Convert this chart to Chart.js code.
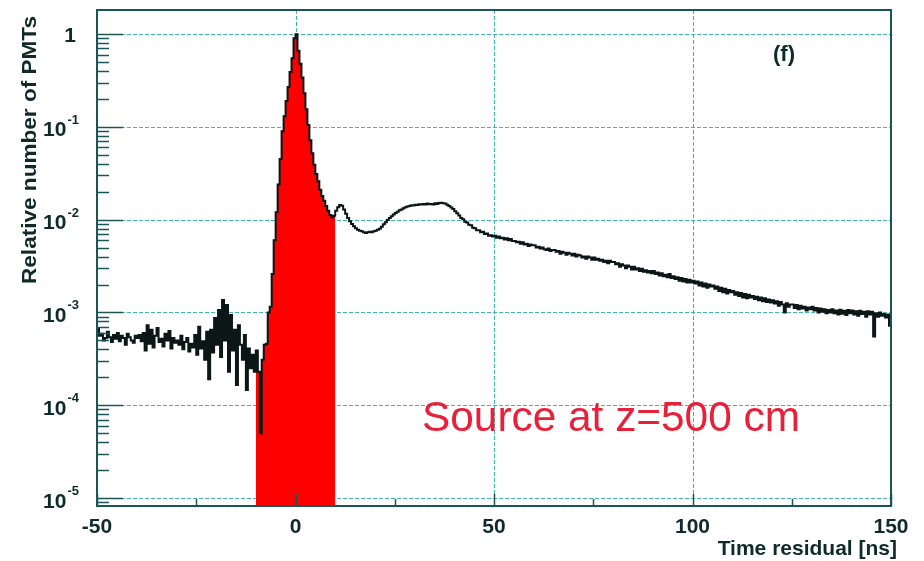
<!DOCTYPE html>
<html>
<head>
<meta charset="utf-8">
<script src="https://cdn.jsdelivr.net/npm/chart.js@4/dist/chart.umd.min.js"></script>
<style>
  html, body { margin: 0; padding: 0; background: #fff; }
  #wrap { width: 924px; height: 561px; }
</style>
</head>
<body>
<div id="wrap"><canvas id="myChart" width="924" height="561"></canvas></div>
<script>
// histogram binning (ns)
var binStart = -50;
var binWidth = 0.5;

// relative number of PMTs per 0.5 ns bin, -50 ns .. 150 ns (one row = 10 ns)
var relPMTs = [
  6.8e-4,5.6e-4,5.9e-4,5.0e-4,5.3e-4,6.2e-4,5.4e-4,4.8e-4,5.7e-4,5.2e-4,6.0e-4,4.9e-4,5.6e-4,5.3e-4,4.5e-4,5.9e-4,5.4e-4,5.0e-4,4.7e-4,5.6e-4,
  5.3e-4,5.7e-4,4.9e-4,6.0e-4,3.9e-4,7.3e-4,4.6e-4,6.5e-4,4.2e-4,5.6e-4,6.8e-4,4.8e-4,5.2e-4,4.3e-4,5.9e-4,5.0e-4,6.3e-4,4.1e-4,5.3e-4,4.7e-4,
  5.0e-4,4.5e-4,5.6e-4,4.0e-4,4.8e-4,5.3e-4,3.8e-4,4.6e-4,4.2e-4,5.7e-4,3.5e-4,7.0e-4,4.1e-4,4.9e-4,3.1e-4,6.2e-4,1.9e-4,6.5e-4,3.7e-4,8.7e-4,
  4.5e-4,1.06e-3,3.3e-4,1.36e-3,5.0e-4,1.2e-3,2.3e-4,9.4e-4,3.9e-4,6.5e-4,1.65e-4,7.3e-4,4.5e-4,3.1e-4,5.7e-4,1.46e-4,4.1e-4,2.5e-4,3.5e-4,2.3e-4,
  3.9e-4,2.3e-4,5.0e-5,3.1e-4,4.5e-4,4.6e-4,1.0e-3,1.15e-3,2.6e-3,6.0e-3,1.2e-2,2.4e-2,4.5e-2,9.0e-2,0.13,0.19,0.27,0.39,0.55,0.9,
  1.0,0.66,0.48,0.34,0.23,0.155,0.105,0.072,0.052,0.039,0.031,0.026,0.021,0.018,0.016,0.014,0.0125,0.0112,0.0106,0.0110,
  0.0125,0.0136,0.0144,0.0141,0.0129,0.0116,0.0104,0.0096,0.0090,0.0085,0.0081,0.0078,0.0076,0.0075,0.0073,0.0072,0.0073,0.0074,0.0073,0.0075,
  0.0076,0.0078,0.0080,0.0084,0.0089,0.0094,0.0099,0.0104,0.0109,0.0114,0.0118,0.0122,0.0126,0.0129,0.0133,0.0136,0.0139,0.0140,0.0143,0.0142,
  0.0145,0.0144,0.0147,0.0146,0.0148,0.0146,0.0149,0.0147,0.0148,0.0146,0.0150,0.0148,0.0151,0.0152,0.0150,0.0149,0.0145,0.0140,0.0135,0.0130,
  0.0123,0.0117,0.0111,0.0104,0.0101,0.0095,0.0093,0.0088,0.0087,0.0082,0.0081,0.0077,0.0077,0.0073,0.0074,0.0070,0.0071,0.0067,0.0068,0.0066,
  6.7e-3,6.4e-3,6.6e-3,6.3e-3,6.4e-3,6.1e-3,6.3e-3,6.0e-3,6.2e-3,5.9e-3,5.9e-3,5.7e-3,5.8e-3,5.5e-3,5.7e-3,5.4e-3,5.5e-3,5.2e-3,5.4e-3,5.3e-3,
  5.3e-3,5.0e-3,5.1e-3,4.9e-3,5.0e-3,4.8e-3,4.7e-3,4.9e-3,4.6e-3,4.7e-3,4.7e-3,4.5e-3,4.6e-3,4.3e-3,4.5e-3,4.4e-3,4.2e-3,4.4e-3,4.3e-3,4.1e-3,
  4.3e-3,4.0e-3,4.2e-3,4.1e-3,3.9e-3,4.0e-3,3.8e-3,4.0e-3,3.9e-3,3.7e-3,3.9e-3,3.7e-3,3.8e-3,3.6e-3,3.7e-3,3.5e-3,3.6e-3,3.4e-3,3.6e-3,3.5e-3,
  3.5e-3,3.3e-3,3.4e-3,3.1e-3,3.3e-3,3.2e-3,3.0e-3,3.2e-3,3.1e-3,2.9e-3,3.1e-3,2.9e-3,3.0e-3,2.8e-3,2.95e-3,2.75e-3,2.85e-3,2.7e-3,2.8e-3,2.65e-3,
  2.8e-3,2.6e-3,2.7e-3,2.5e-3,2.65e-3,2.45e-3,2.55e-3,2.4e-3,2.6e-3,2.35e-3,2.45e-3,2.3e-3,2.4e-3,2.2e-3,2.35e-3,2.15e-3,2.3e-3,2.1e-3,2.25e-3,2.1e-3,
  2.2e-3,2.05e-3,2.15e-3,1.95e-3,2.1e-3,1.9e-3,2.05e-3,1.85e-3,2.0e-3,1.9e-3,1.95e-3,1.8e-3,1.9e-3,1.7e-3,1.85e-3,1.65e-3,1.8e-3,1.6e-3,1.75e-3,1.65e-3,
  1.7e-3,1.55e-3,1.65e-3,1.5e-3,1.62e-3,1.45e-3,1.58e-3,1.42e-3,1.55e-3,1.45e-3,1.5e-3,1.4e-3,1.48e-3,1.35e-3,1.45e-3,1.32e-3,1.42e-3,1.3e-3,1.38e-3,1.28e-3,
  1.35e-3,1.25e-3,1.32e-3,1.18e-3,1.3e-3,1.22e-3,1.0e-3,1.26e-3,1.15e-3,1.22e-3,1.22e-3,1.12e-3,1.2e-3,1.08e-3,1.18e-3,1.1e-3,1.15e-3,1.05e-3,1.13e-3,1.08e-3,
  1.15e-3,1.05e-3,1.12e-3,1.0e-3,1.1e-3,1.02e-3,1.08e-3,9.8e-4,1.06e-3,1.0e-3,1.08e-3,9.8e-4,1.05e-3,9.5e-4,1.07e-3,9.7e-4,1.04e-3,9.4e-4,1.06e-3,9.8e-4,
  1.05e-3,9.5e-4,1.03e-3,9.2e-4,1.04e-3,9.6e-4,1.02e-3,9.0e-4,1.03e-3,9.5e-4,1.02e-3,5.5e-4,9.8e-4,9.0e-4,1.0e-3,9.2e-4,9.6e-4,8.8e-4,9.5e-4,7.2e-4
];

// prompt window shaded red
var fillFrom = -10;
var fillTo = 10;

var xRange = [-50, 150];
var yRange = [8.2e-6, 1.82];
var xTicks = [-50, 0, 50, 100, 150];
var xMinorTicks = [-25, 25, 75, 125];
var yDecades = [0, -1, -2, -3, -4, -5];

var yTitle = "Relative number of PMTs";
var xTitle = "Time residual [ns]";
var panelLabel = "(f)";
var note = "Source at z=500 cm";

var histPoints = [];
var fillPoints = [];
histPoints.push({x: binStart, y: relPMTs[0]});
for (var i = 0; i < relPMTs.length; i++) {
  var lo = binStart + i * binWidth;
  var p = {x: lo + binWidth / 2, y: relPMTs[i]};
  histPoints.push(p);
  if (lo >= fillFrom && lo < fillTo) {
    if (fillPoints.length == 0) fillPoints.push({x: fillFrom, y: relPMTs[i]});
    fillPoints.push(p);
  }
}
histPoints.push({x: binStart + relPMTs.length * binWidth, y: relPMTs[relPMTs.length - 1]});
fillPoints.push({x: fillTo, y: fillPoints[fillPoints.length - 1].y});

var frameColor = "#1a5656";
var gridColor = "#3fb6b6";
var textColor = "#0e2a2a";
var boldFont = '"Liberation Sans", Arial, sans-serif';

// ROOT style frame, dotted grid, inward ticks and labels
var rootFrame = {
  id: 'rootFrame',
  beforeDatasetsDraw: function(chart) {
    var ctx = chart.ctx, a = chart.chartArea;
    var xs = chart.scales.x, ys = chart.scales.y;
    ctx.save();
    ctx.strokeStyle = gridColor;
    ctx.lineWidth = 1;
    ctx.setLineDash([4, 2]);
    xTicks.forEach(function(t) {
      var px = Math.round(xs.getPixelForValue(t)) + 0.5;
      ctx.beginPath(); ctx.moveTo(px, a.top); ctx.lineTo(px, a.bottom); ctx.stroke();
    });
    yDecades.forEach(function(d) {
      var py = Math.round(ys.getPixelForValue(Math.pow(10, d))) + 0.5;
      ctx.beginPath(); ctx.moveTo(a.left, py); ctx.lineTo(a.right, py); ctx.stroke();
    });
    ctx.restore();
  },
  afterDatasetsDraw: function(chart) {
    var ctx = chart.ctx, a = chart.chartArea;
    var xs = chart.scales.x, ys = chart.scales.y;
    ctx.save();
    ctx.strokeStyle = frameColor;
    ctx.lineWidth = 2;
    ctx.strokeRect(a.left, a.top, a.right - a.left, a.bottom - a.top);

    // y ticks
    ctx.lineWidth = 1.5;
    for (var d = -6; d <= 0; d++) {
      for (var m = 1; m <= 9; m++) {
        var v = m * Math.pow(10, d);
        if (v < yRange[0] || v > yRange[1]) continue;
        var py = Math.round(ys.getPixelForValue(v)) + 0.5;
        ctx.beginPath(); ctx.moveTo(a.left, py); ctx.lineTo(a.left + (m == 1 ? 26 : 12), py); ctx.stroke();
      }
    }
    // x ticks
    xTicks.forEach(function(t) {
      var px = Math.round(xs.getPixelForValue(t)) + 0.5;
      ctx.beginPath(); ctx.moveTo(px, a.bottom); ctx.lineTo(px, a.bottom - 12); ctx.stroke();
    });
    xMinorTicks.forEach(function(t) {
      var px = Math.round(xs.getPixelForValue(t)) + 0.5;
      ctx.beginPath(); ctx.moveTo(px, a.bottom); ctx.lineTo(px, a.bottom - 7); ctx.stroke();
    });

    ctx.fillStyle = textColor;
    // y labels
    yDecades.forEach(function(d) {
      var py = ys.getPixelForValue(Math.pow(10, d));
      ctx.textAlign = 'right';
      ctx.textBaseline = 'alphabetic';
      if (d == 0) {
        ctx.font = 'bold 21px ' + boldFont;
        ctx.fillText('1', 76, py + 8);
        return;
      }
      var exp = '-' + (-d);
      ctx.font = 'bold 13px ' + boldFont;
      var ew = ctx.measureText(exp).width;
      ctx.fillText(exp, 79, py - 3);
      ctx.font = 'bold 21px ' + boldFont;
      ctx.fillText('10', 79 - ew - 1, py + 9.5);
    });
    // x labels
    ctx.font = 'bold 21px ' + boldFont;
    ctx.textAlign = 'center';
    xTicks.forEach(function(t) {
      ctx.fillText(String(t), xs.getPixelForValue(t), 533);
    });
    // axis titles
    ctx.textAlign = 'right';
    ctx.fillText(xTitle, 897, 555);
    ctx.save();
    ctx.translate(30, 150);
    ctx.rotate(-Math.PI / 2);
    ctx.textAlign = 'center';
    ctx.textBaseline = 'middle';
    var tw = ctx.measureText(yTitle).width;
    ctx.scale(268 / tw, 1);
    ctx.fillText(yTitle, 0, 0);
    ctx.restore();
    // panel label
    ctx.font = 'bold 22px ' + boldFont;
    ctx.textAlign = 'center';
    ctx.textBaseline = 'middle';
    ctx.fillText(panelLabel, 784, 55);
    // annotation
    ctx.font = '42px ' + boldFont;
    ctx.fillStyle = '#e8203a';
    ctx.textAlign = 'left';
    ctx.textBaseline = 'alphabetic';
    var nw = ctx.measureText(note).width;
    ctx.save();
    ctx.translate(422, 431);
    ctx.scale(378 / nw, 1);
    ctx.fillText(note, 0, 0);
    ctx.restore();
    ctx.restore();
  }
};

var ctx = document.getElementById("myChart").getContext("2d");
var myChart = new Chart(ctx, {
  type: 'line',
  data: {
    datasets: [
      {
        data: fillPoints,
        stepped: 'middle',
        borderColor: '#222',
        borderWidth: 1,
        backgroundColor: '#ff0000',
        fill: 'start',
        pointRadius: 0,
        order: 2
      },
      {
        data: histPoints,
        stepped: 'middle',
        borderColor: '#0b1616',
        borderWidth: 2,
        fill: false,
        pointRadius: 0,
        order: 1
      }
    ]
  },
  options: {
    responsive: false,
    animation: false,
    layout: { padding: { left: 97, right: 33, top: 10, bottom: 55 } },
    plugins: { legend: { display: false }, tooltip: { enabled: false } },
    scales: {
      x: { type: 'linear', min: xRange[0], max: xRange[1], display: false },
      y: { type: 'logarithmic', min: yRange[0], max: yRange[1], display: false }
    }
  },
  plugins: [rootFrame]
});
</script>
</body>
</html>
